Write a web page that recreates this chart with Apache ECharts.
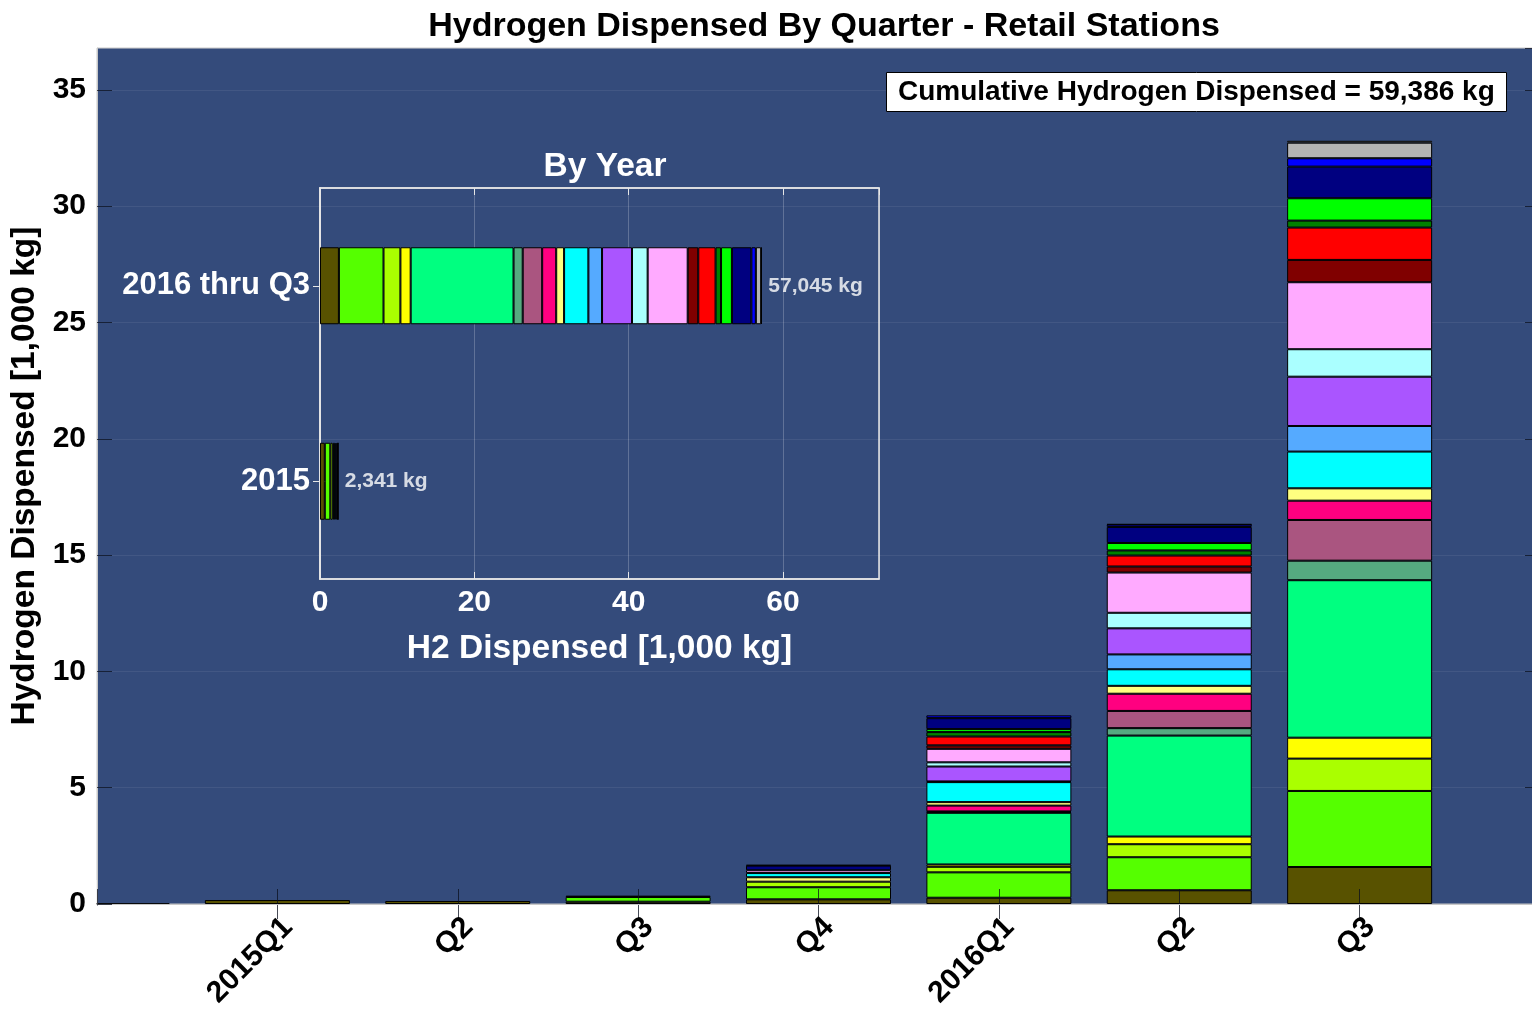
<!DOCTYPE html>
<html><head><meta charset="utf-8">
<script src="https://cdn.jsdelivr.net/npm/echarts@6/dist/echarts.min.js"></script>
<style>html,body{margin:0;padding:0;background:#fff}#c{width:1532px;height:1011px}</style>
</head><body><div id="c"></div>
<script>
// ---- data (1,000 kg) : index 0 = partial quarter before 2015Q1, then 2015Q1..2016Q3
const quarterLabels = ['', '2015Q1', 'Q2', 'Q3', 'Q4', '2016Q1', 'Q2', 'Q3', ''];
const station01 = [0.02, 0.17, 0.13, 0.10, 0.20, 0.27, 0.59, 1.59];
const station02 = [0, 0, 0, 0.20, 0.52, 1.09, 1.42, 3.27];
const station03 = [0, 0, 0, 0.06, 0.24, 0.24, 0.56, 1.39];
const station04 = [0, 0, 0, 0, 0, 0.10, 0.33, 0.90];
const station05 = [0, 0, 0, 0, 0, 2.22, 4.34, 6.77];
const station06 = [0, 0, 0, 0, 0, 0.03, 0.32, 0.84];
const station07 = [0, 0, 0, 0, 0, 0.03, 0.74, 1.75];
const station08 = [0, 0, 0, 0, 0, 0.25, 0.74, 0.83];
const station09 = [0, 0, 0, 0, 0.19, 0.15, 0.34, 0.53];
const station10 = [0, 0, 0, 0, 0.18, 0.86, 0.71, 1.58];
const station11 = [0, 0, 0, 0, 0, 0.03, 0.64, 1.10];
const station12 = [0, 0, 0, 0, 0, 0.64, 1.12, 2.12];
const station13 = [0, 0, 0, 0, 0, 0.18, 0.67, 1.18];
const station14 = [0, 0, 0, 0, 0.12, 0.58, 1.73, 2.88];
const station15 = [0, 0, 0, 0, 0, 0.15, 0.26, 0.96];
const station16 = [0, 0, 0, 0, 0, 0.38, 0.47, 1.39];
const station17 = [0, 0, 0, 0, 0, 0.19, 0.22, 0.30];
const station18 = [0, 0, 0, 0, 0, 0.13, 0.32, 0.96];
const station19 = [0, 0, 0, 0, 0.20, 0.47, 0.69, 1.36];
const station20 = [0, 0, 0, 0, 0.03, 0.12, 0.10, 0.36];
const station21 = [0, 0, 0, 0, 0, 0, 0.02, 0.67];
const station22 = [0, 0, 0, 0, 0, 0, 0, 0.08];
const yAxisTicks = [0, 5, 10, 15, 20, 25, 30, 35];
const yearLabels = ['2015', '2016 thru Q3'];
const yearQuarterIdx = [[0, 1, 2, 3, 4], [5, 6, 7]];
const yearTotalText = ['2,341 kg', '57,045 kg'];
const insetTicks = [0, 20, 40, 60];
const cumulativeText = 'Cumulative Hydrogen Dispensed = 59,386 kg';

const stations = [station01, station02, station03, station04, station05, station06, station07, station08,
  station09, station10, station11, station12, station13, station14, station15, station16, station17,
  station18, station19, station20, station21, station22];

// ---- styles
const stationColors = ['#585200', '#55ff00', '#aaff00', '#ffff00', '#00ff80', '#55aa80', '#aa5580', '#ff0080',
  '#ffff80', '#00ffff', '#55aaff', '#aa55ff', '#aaffff', '#ffaaff', '#800000', '#ff0000', '#008000',
  '#00ff00', '#000080', '#0000ff', '#b4b4b4', '#eeeeee'];
const FONT = '"Liberation Sans", Arial, Helvetica, sans-serif';
const BG = '#344b7b';
const TICK = 'rgba(10,15,30,0.75)';

const series = [];
stations.forEach((d, k) => {
  series.push({
    type: 'bar', xAxisIndex: 0, yAxisIndex: 0, stack: 'quarter', barWidth: 145, clip: true,
    data: d.map(v => v > 0 ? v : '-'),
    itemStyle: { color: stationColors[k], borderColor: '#000', borderWidth: 1 },
    silent: true
  });
});
stations.forEach((d, k) => {
  series.push({
    type: 'bar', xAxisIndex: 2, yAxisIndex: 2, stack: 'year', barWidth: 77,
    data: yearQuarterIdx.map(idx => { const s = idx.reduce((a, i) => a + d[i], 0); return s > 0 ? s : '-'; }),
    itemStyle: { color: stationColors[k], borderColor: '#000', borderWidth: 1 },
    silent: true
  });
});
series.push({
  type: 'scatter', xAxisIndex: 2, yAxisIndex: 2, symbolSize: 1, z: 10,
  itemStyle: { color: 'rgba(0,0,0,0)' },
  data: yearQuarterIdx.map((idx, j) => [stations.reduce((a, d) => a + idx.reduce((b, i) => b + d[i], 0), 0), j]),
  label: { show: true, position: 'right', distance: 6, formatter: p => yearTotalText[p.dataIndex],
    color: '#ffffff', fontWeight: 'bold', fontSize: 21, fontFamily: FONT },
  silent: true
});

const chart = echarts.init(document.getElementById('c'), null, { renderer: 'canvas' });
chart.setOption({
  animation: false,
  backgroundColor: '#ffffff',
  title: [
    { text: 'Hydrogen Dispensed By Quarter - Retail Stations', left: 819, top: 5, textAlign: 'center',
      textStyle: { fontSize: 34, fontWeight: 'bold', color: '#000', fontFamily: FONT } },
    { text: 'By Year', left: 600, top: 145, textAlign: 'center',
      textStyle: { fontSize: 33.5, fontWeight: 'bold', color: '#fff', fontFamily: FONT } },
    { text: cumulativeText, left: 886, top: 72, padding: [5, 12], backgroundColor: '#fff',
      borderColor: '#000', borderWidth: 1,
      textStyle: { fontSize: 28, fontWeight: 'bold', color: '#000', fontFamily: FONT, lineHeight: 30 } }
  ],
  // white margin outside the plot frame (the half bar of the first quarter sits on the frame edge)
  graphic: [
    { type: 'rect', left: 0, top: 880, z: 10, silent: true,
      shape: { width: 96.5, height: 40 }, style: { fill: '#ffffff' } },
    { type: 'rect', left: 88, top: 905.5, z: 20, silent: true,
      shape: { width: 20, height: 14 }, style: { fill: '#ffffff' } }
  ],
  grid: [
    { left: 97, top: 48, width: 1443, height: 856, show: true, backgroundColor: BG, borderColor: '#c8c8c8', borderWidth: 1,
      containLabel: false, outerBoundsMode: 'none' },
    { left: 320, top: 188, width: 559, height: 391, show: true, backgroundColor: 'transparent', borderColor: '#e6e6e6', borderWidth: 1.5,
      containLabel: false, outerBoundsMode: 'none' }
  ],
  xAxis: [
    { type: 'category', gridIndex: 0, data: quarterLabels, boundaryGap: false, position: 'bottom', z: 12,
      axisLine: { show: true, lineStyle: { color: '#c8c8c8' } },
      axisTick: { show: true, inside: true, length: 15, interval: 0, lineStyle: { color: TICK } },
      axisLabel: { rotate: 45, margin: 8, interval: 0, verticalAlign: 'top',
        color: '#000', fontSize: 30, fontWeight: 'bold', fontFamily: FONT },
      splitLine: { show: false } },
    { type: 'category', gridIndex: 0, data: quarterLabels, boundaryGap: false, position: 'top', z: 5,
      axisLine: { show: true, lineStyle: { color: '#c8c8c8' } },
      axisTick: { show: true, inside: true, length: 15, interval: 0, lineStyle: { color: TICK } },
      axisLabel: { show: false }, splitLine: { show: false } },
    { type: 'value', gridIndex: 1, min: 0, max: 72.44, interval: 20, position: 'bottom',
      axisLine: { show: true, lineStyle: { color: '#e6e6e6', width: 1.5 } },
      axisTick: { show: true, inside: true, length: 7, lineStyle: { color: '#e6e6e6' } },
      axisLabel: { showMaxLabel: false, margin: 9, formatter: v => insetTicks.includes(v) ? String(v) : '',
        color: '#fff', fontSize: 30, fontWeight: 'bold', fontFamily: FONT },
      splitLine: { show: true, lineStyle: { color: 'rgba(255,255,255,0.22)' } },
      name: 'H2 Dispensed [1,000 kg]', nameLocation: 'middle', nameGap: 53,
      nameTextStyle: { color: '#fff', fontSize: 33.5, fontWeight: 'bold', fontFamily: FONT } },
    { type: 'value', gridIndex: 1, min: 0, max: 72.44, interval: 20, position: 'top',
      axisLine: { show: true, lineStyle: { color: '#e6e6e6', width: 1.5 } },
      axisTick: { show: true, inside: true, length: 7, lineStyle: { color: '#e6e6e6' } },
      axisLabel: { show: false }, splitLine: { show: false } }
  ],
  yAxis: [
    { type: 'value', gridIndex: 0, min: 0, max: 36.8, interval: 5, position: 'left', z: 12,
      axisLine: { show: true, lineStyle: { color: '#c8c8c8' } },
      axisTick: { show: true, inside: true, length: 15, lineStyle: { color: TICK } },
      axisLabel: { showMaxLabel: false, margin: 11, formatter: v => yAxisTicks.includes(v) ? String(v) : '',
        color: '#000', fontSize: 30, fontWeight: 'bold', fontFamily: FONT },
      splitLine: { show: false },
      name: 'Hydrogen Dispensed [1,000 kg]', nameLocation: 'middle', nameGap: 48,
      nameTextStyle: { color: '#000', fontSize: 33.5, fontWeight: 'bold', fontFamily: FONT } },
    { type: 'value', gridIndex: 0, min: 0, max: 36.8, interval: 5, position: 'right',
      axisLine: { show: false },
      axisTick: { show: true, inside: true, length: 15, lineStyle: { color: TICK } },
      axisLabel: { show: false },
      splitLine: { show: true, lineStyle: { color: 'rgba(255,255,255,0.07)' } } },
    { type: 'category', gridIndex: 1, data: yearLabels, position: 'left',
      axisLine: { show: true, lineStyle: { color: '#e6e6e6', width: 1.5 } },
      axisTick: { show: true, inside: true, length: 7, alignWithLabel: true, lineStyle: { color: '#e6e6e6' } },
      axisLabel: { margin: 10, color: '#fff', fontSize: 31, fontWeight: 'bold', fontFamily: FONT, lineHeight: 42, verticalAlign: 'middle' },
      splitLine: { show: false } },
    { type: 'category', gridIndex: 1, data: yearLabels, position: 'right',
      axisLine: { show: true, lineStyle: { color: '#e6e6e6', width: 1.5 } },
      axisTick: { show: true, inside: true, length: 7, alignWithLabel: true, lineStyle: { color: '#e6e6e6' } },
      axisLabel: { show: false }, splitLine: { show: false } }
  ],
  series: series
});
</script></body></html>
